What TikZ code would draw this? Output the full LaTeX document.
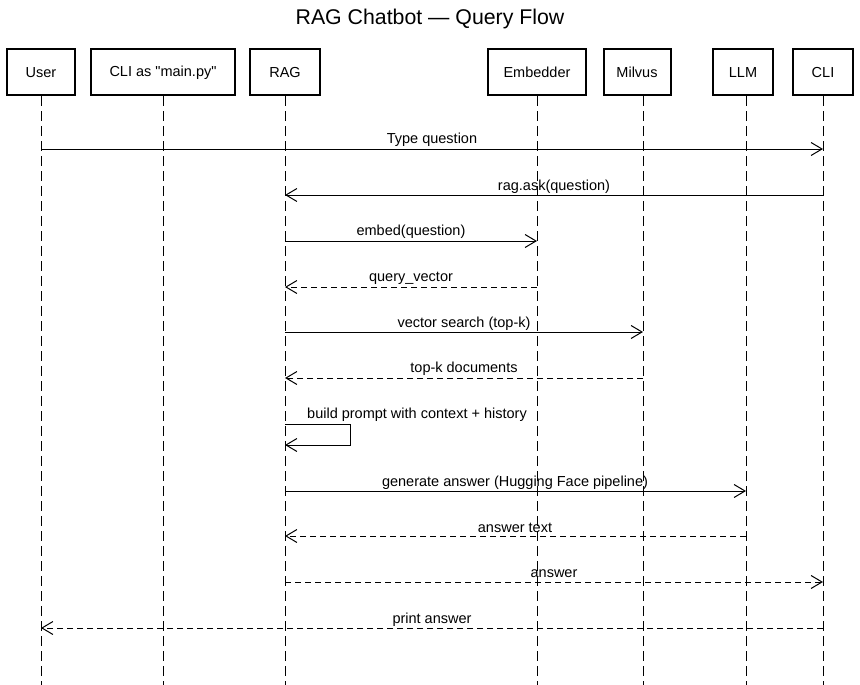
\documentclass[tikz,border=0pt]{standalone}
\usepackage{fontspec}
\setmainfont{Liberation Sans}[Ligatures=TeXOff]
\usetikzlibrary{arrows.meta}
\tikzset{
  actor/.style={draw=black, line width=2pt, minimum height=46pt, inner sep=0pt, font=\fontsize{14.5}{16}\selectfont},
  lifeline/.style={line width=1pt, dash pattern=on 10pt off 5pt},
  msg/.style={line width=1pt, -{Straight Barb[length=11pt,width=13pt,line width=1pt]}},
  reply/.style={msg, dash pattern=on 6pt off 4pt},
  lbl/.style={font=\fontsize{14.5}{16}\selectfont, inner sep=0pt, yshift=-2pt}
}
\begin{document}
\begin{tikzpicture}[x=1pt,y=-1pt]
\useasboundingbox (0,0) rectangle (860,685);
\node[font=\fontsize{21.3}{24}\selectfont] (title) at (430,19) {RAG Chatbot — Query Flow};
% participants
\node[actor, minimum width=68pt] (user) at (41,72.5) {User};
\node[actor, minimum width=144pt] (cli1) at (163,72.5) {CLI as "main.py"};
\node[actor, minimum width=70pt] (rag) at (285,72.5) {RAG};
\node[actor, minimum width=98pt] (emb) at (537,72.5) {Embedder};
\node[actor, minimum width=67pt] (mil) at (637,72.5) {Milvus};
\node[actor, minimum width=60pt] (llm) at (743,72.5) {LLM};
\node[actor, minimum width=60pt] (cli2) at (823,72.5) {CLI};
% lifelines
\foreach \n/\x in {user/41,cli1/163,rag/285,emb/537,mil/643,llm/746,cli2/823}{
  \coordinate (\n-top) at (\x,96);
  \coordinate (\n-bot) at (\x,685);
  \draw[lifeline] (\n-top) -- (\n-bot);
}
% messages
\draw[msg] (user-top |- 0,149) -- (cli2-top |- 0,149);
\node[lbl] (l1) at (432,138) {Type question};
\draw[msg] (cli2-top |- 0,195) -- (rag-top |- 0,195);
\node[lbl] (l2) at (554,185) {rag.ask(question)};
\draw[msg] (rag-top |- 0,241) -- (emb-top |- 0,241);
\node[lbl] (l3) at (411,230) {embed(question)};
\draw[reply] (emb-top |- 0,287) -- (rag-top |- 0,287);
\node[lbl] (l4) at (411,276) {query\_vector};
\draw[msg] (rag-top |- 0,332) -- (mil-top |- 0,332);
\node[lbl] (l5) at (464,322) {vector search (top-k)};
\draw[reply] (mil-top |- 0,378) -- (rag-top |- 0,378);
\node[lbl] (l6) at (464,367) {top-k documents};
\coordinate (loopA) at (350,424);
\coordinate (loopB) at (350,445);
\draw[msg] (rag-top |- loopA) -- (loopA) -- (loopB) -- (rag-top |- loopB);
\node[lbl] (l7) at (417,413) {build prompt with context + history};
\draw[msg] (rag-top |- 0,491) -- (llm-top |- 0,491);
\node[lbl] (l8) at (515,481) {generate answer (Hugging Face pipeline)};
\draw[reply] (llm-top |- 0,536) -- (rag-top |- 0,536);
\node[lbl] (l9) at (515,526) {answer text};
\draw[reply] (rag-top |- 0,582) -- (cli2-top |- 0,582);
\node[lbl] (l10) at (554,572) {answer};
\draw[reply] (cli2-top |- 0,628) -- (user-top |- 0,628);
\node[lbl] (l11) at (432,618) {print answer};
\end{tikzpicture}
\end{document}
